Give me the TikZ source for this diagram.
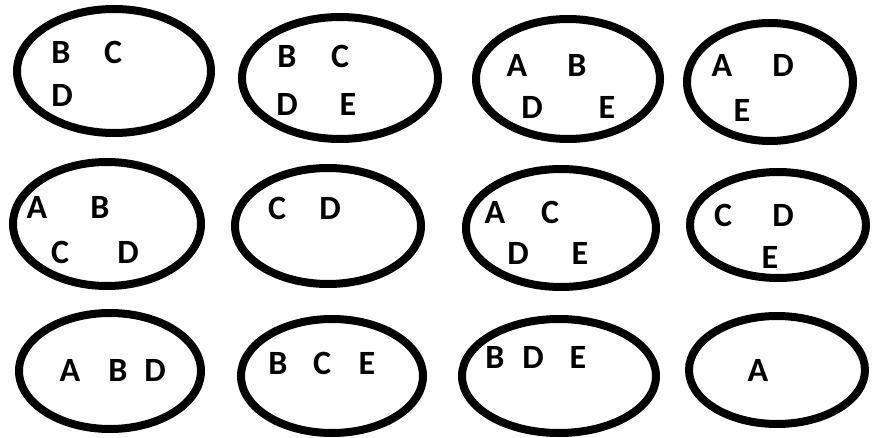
\documentclass[tikz,border=0pt]{standalone}
\usepackage{fontspec}
\setmainfont{Carlito}
\usetikzlibrary{shapes.geometric}
\begin{document}
\begin{tikzpicture}[x=1pt,y=-1pt,
  oval/.style={draw=black,line width=8pt,ellipse,inner sep=0pt},
  lab/.style={inner sep=0pt,font=\fontsize{34}{34}\selectfont\bfseries,text=black}]
\useasboundingbox (0,0) rectangle (873,438);
% row 1
\node[oval,minimum width=194pt,minimum height=124pt] (e1) at (114,71) {};
\node[oval,minimum width=196pt,minimum height=122pt] (e2) at (340,78) {};
\node[oval,minimum width=184pt,minimum height=120pt] (e3) at (568,79) {};
\node[oval,minimum width=166pt,minimum height=118pt] (e4) at (770,82) {};
% row 2
\node[oval,minimum width=188pt,minimum height=124pt] (e5) at (107,224) {};
\node[oval,minimum width=186pt,minimum height=116pt] (e6) at (328,226) {};
\node[oval,minimum width=190pt,minimum height=118pt] (e7) at (561,228) {};
\node[oval,minimum width=176pt,minimum height=106pt] (e8) at (778,225) {};
% row 3
\node[oval,minimum width=182pt,minimum height=116pt] (e9) at (110,371) {};
\node[oval,minimum width=182pt,minimum height=114pt] (e10) at (332,376) {};
\node[oval,minimum width=194pt,minimum height=114pt] (e11) at (559,376) {};
\node[oval,minimum width=176pt,minimum height=108pt] (e12) at (777,370) {};
% labels
\node[lab] (b1) at (61,52) {B};
\node[lab] (c1) at (113,52) {C};
\node[lab] (d1) at (62,95) {D};
\node[lab] (b2) at (287,56) {B};
\node[lab] (c2) at (340,56) {C};
\node[lab] (d2) at (287,104) {D};
\node[lab] (x2) at (348,104) {E};
\node[lab] (a3) at (517,65) {A};
\node[lab] (b3) at (577,65) {B};
\node[lab] (d3) at (532,107) {D};
\node[lab] (x3) at (607,107) {E};
\node[lab] (a4) at (722,65) {A};
\node[lab] (d4) at (783,65) {D};
\node[lab] (x4) at (742,110) {E};
\node[lab] (a5) at (37,207) {A};
\node[lab] (b5) at (100,207) {B};
\node[lab] (c5) at (60,252) {C};
\node[lab] (d5) at (128,252) {D};
\node[lab] (c6) at (277,208) {C};
\node[lab] (d6) at (330,208) {D};
\node[lab] (a7) at (495,212) {A};
\node[lab] (c7) at (550,212) {C};
\node[lab] (d7) at (518,253) {D};
\node[lab] (x7) at (580,253) {E};
\node[lab] (c8) at (723,215) {C};
\node[lab] (d8) at (783,215) {D};
\node[lab] (x8) at (770,257) {E};
\node[lab] (a9) at (70,370) {A};
\node[lab] (b9) at (118,370) {B};
\node[lab] (d9) at (155,370) {D};
\node[lab] (b10) at (278,363) {B};
\node[lab] (c10) at (322,363) {C};
\node[lab] (x10) at (367,363) {E};
\node[lab] (b11) at (495,357) {B};
\node[lab] (d11) at (533,357) {D};
\node[lab] (x11) at (578,357) {E};
\node[lab] (a12) at (758,370) {A};
\end{tikzpicture}
\end{document}
